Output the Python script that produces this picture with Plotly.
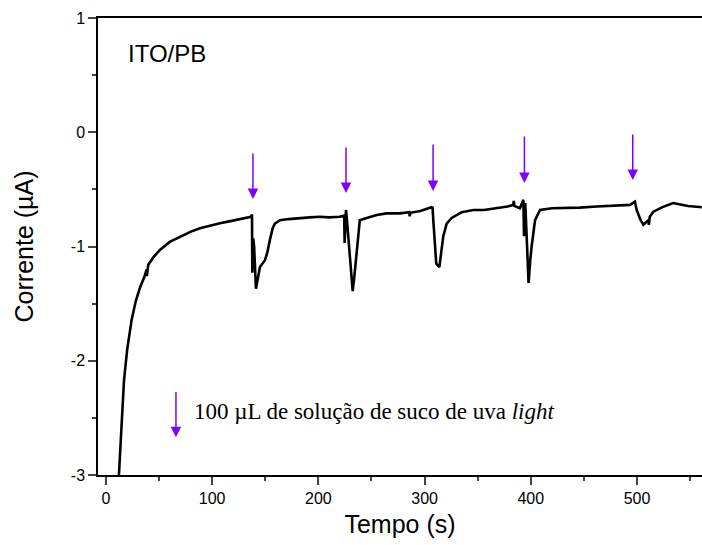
import plotly.graph_objects as go

# chronoamperometry trace, ITO/PB electrode
tempo = [11.5, 12.2, 14.5, 17, 20, 24.2, 28, 32, 36, 38.3, 38.5, 39.8, 45, 50.8, 60,
         69.7, 80, 88.5, 98, 107.3, 116, 126, 131, 136.5, 137.5, 137.8, 138.7, 139.5,
         141.2, 142.5, 145, 149.7, 152, 154.4, 157, 159, 163.8, 172, 182.7, 192, 201.5,
         210, 220, 224.3, 224.7, 225.2, 226, 227, 229.5, 232.3, 234, 236, 239, 245.5,
         255, 264, 276.8, 285.5, 286, 286.5, 296, 306.6, 307.5, 308.2, 311, 313.9,
         315.5, 317.6, 320.8, 325.5, 335, 345.9, 356, 367.9, 378, 383.5, 384, 384.5,
         389.8, 393, 393.6, 394.2, 394.8, 396.5, 397.9, 399.5, 400.8, 404, 408.7, 420,
         430.6, 446, 462, 478, 493.4, 496, 498, 499.7, 503, 506, 508, 510.6, 511.2, 512,
         515.4, 524, 534, 548, 561]
corrente = [-3.3, -3.0, -2.6, -2.17, -1.9, -1.64, -1.48, -1.36, -1.27, -1.2, -1.26, -1.16,
            -1.09, -1.03, -0.96, -0.913, -0.87, -0.84, -0.815, -0.796, -0.78, -0.76, -0.755,
            -0.74, -0.72, -1.23, -0.93, -1.0, -1.37, -1.3, -1.18, -1.12, -1.05, -0.94, -0.84,
            -0.80, -0.77, -0.76, -0.75, -0.745, -0.74, -0.745, -0.74, -0.73, -0.97, -0.75,
            -0.68, -0.78, -1.1, -1.39, -1.25, -1.06, -0.77, -0.75, -0.725, -0.71, -0.71,
            -0.70, -0.735, -0.705, -0.69, -0.656, -0.66, -0.77, -1.15, -1.18, -1.05, -0.91,
            -0.80, -0.75, -0.70, -0.68, -0.68, -0.665, -0.65, -0.636, -0.60, -0.645, -0.665,
            -0.59, -0.91, -0.64, -0.62, -1.0, -1.32, -1.12, -1.0, -0.77, -0.68, -0.665,
            -0.665, -0.66, -0.65, -0.645, -0.636, -0.62, -0.607, -0.68, -0.76, -0.81, -0.79,
            -0.77, -0.81, -0.74, -0.695, -0.655, -0.62, -0.645, -0.656]

# injections of 100 uL grape juice solution
adicao_t = [138.4, 226, 308, 394, 496]
adicao_ponta = [-0.584, -0.531, -0.514, -0.444, -0.417]
adicao_cauda = [-0.172, -0.12, -0.094, -0.024, -0.006]

legenda_t = 65.9
legenda_ponta = -2.67
legenda_cauda = -2.26

x_ticks = [0, 100, 200, 300, 400, 500]
y_ticks = [-3, -2, -1, 0, 1]
y_labels = ["-3", "-2", "-1", "0", "1"]

ROXO = "#8000ff"
SANS = "Liberation Sans, Arial, sans-serif"
SERIF = "Liberation Serif, Times New Roman, serif"

fig = go.Figure()
fig.add_trace(go.Scatter(x=tempo, y=corrente, mode="lines",
                         line=dict(color="black", width=2.6), showlegend=False))

for t, ponta, cauda in zip(adicao_t, adicao_ponta, adicao_cauda):
    fig.add_annotation(x=t, y=ponta, ax=t, ay=cauda, axref="x", ayref="y",
                       showarrow=True, arrowhead=2, arrowsize=1.4, arrowwidth=1.5,
                       arrowcolor=ROXO, text="")

fig.add_annotation(x=legenda_t, y=legenda_ponta, ax=legenda_t, ay=legenda_cauda,
                   axref="x", ayref="y", showarrow=True, arrowhead=2, arrowsize=1.4,
                   arrowwidth=1.5, arrowcolor=ROXO, text="")
fig.add_annotation(x=81, y=-2.44, xanchor="left", yanchor="middle", showarrow=False,
                   text="100 µL de solução de suco de uva <i>light</i>",
                   font=dict(family=SERIF, size=23, color="black"))
fig.add_annotation(x=19, y=0.69, xanchor="left", yanchor="middle", showarrow=False,
                   text="ITO/PB", font=dict(family=SANS, size=24, color="black"))

fig.update_xaxes(range=[-7.5, 561.2], tickvals=x_ticks, ticks="outside", ticklen=8,
                 tickwidth=1.5, showline=True, linecolor="black", linewidth=1.5,
                 mirror=True, showgrid=False, zeroline=False,
                 minor=dict(dtick=50, tick0=0, ticks="outside", ticklen=4, tickwidth=1.5),
                 tickfont=dict(family=SANS, size=16, color="black"),
                 title=dict(text="Tempo (s)", font=dict(family=SANS, size=25, color="black"),
                            standoff=10))
fig.update_yaxes(range=[-3, 1], tickvals=y_ticks, ticktext=y_labels, ticks="outside",
                 ticklen=8, tickwidth=1.5, showline=True, linecolor="black", linewidth=1.5,
                 mirror=False, showgrid=False, zeroline=False,
                 minor=dict(dtick=0.5, tick0=0, ticks="outside", ticklen=4, tickwidth=1.5),
                 tickfont=dict(family=SANS, size=16, color="black"),
                 title=dict(text="Corrente (µA)", font=dict(family=SANS, size=25, color="black"),
                            standoff=30))

fig.update_layout(width=702, height=545, margin=dict(l=98, r=0, t=18, b=70),
                  plot_bgcolor="white", paper_bgcolor="white")

fig.write_html("out.html", config={"displayModeBar": False},
               post_script="document.body.style.margin='0';document.body.style.overflow='hidden';")
